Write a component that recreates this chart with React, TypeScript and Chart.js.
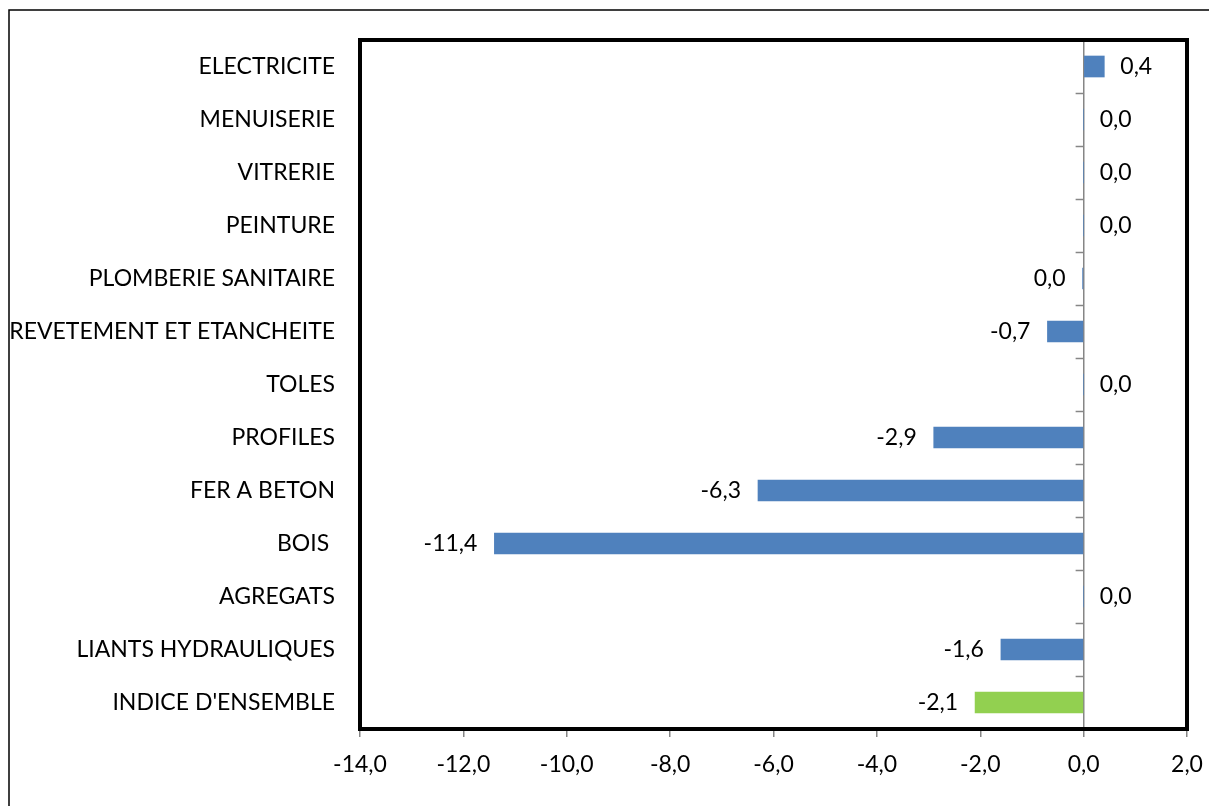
import React, { useEffect, useRef } from "react";
import { Chart, registerables } from "chart.js";

Chart.register(...registerables);

const categories = [
  "ELECTRICITE",
  "MENUISERIE",
  "VITRERIE",
  "PEINTURE",
  "PLOMBERIE SANITAIRE",
  "REVETEMENT ET ETANCHEITE",
  "TOLES",
  "PROFILES",
  "FER A BETON",
  "BOIS ",
  "AGREGATS",
  "LIANTS HYDRAULIQUES",
  "INDICE D'ENSEMBLE",
];

const values = [0.4, 0.0, 0.0, 0.0, -0.02, -0.7, 0.0, -2.9, -6.3, -11.4, 0.0, -1.6, -2.1];

const xTicks = [-14, -12, -10, -8, -6, -4, -2, 0, 2];

const BLUE = "#4F81BD";
const GREEN = "#92D050";
const FONT = "Lato, 'Open Sans', sans-serif";
const FS = 23;

const fmt = (v: number) => {
  const s = (Math.abs(v) < 0.05 ? 0 : v).toFixed(1);
  return s.replace(".", ",");
};

const framePlugin = {
  id: "frame",
  beforeDraw(chart: any) {
    const ctx = chart.ctx;
    ctx.save();
    ctx.fillStyle = "#fff";
    ctx.fillRect(0, 0, chart.width, chart.height);
    ctx.strokeStyle = "#000";
    ctx.lineWidth = 1.5;
    ctx.beginPath();
    ctx.moveTo(9, chart.height + 2);
    ctx.lineTo(9, 10);
    ctx.lineTo(chart.width + 2, 10);
    ctx.stroke();
    ctx.restore();
  },
  afterDatasetsDraw(chart: any) {
    const ctx = chart.ctx;
    const { left, right, top, bottom } = chart.chartArea;
    const x0 = chart.scales.x.getPixelForValue(0);
    const n = categories.length;
    const step = (bottom - top) / n;
    ctx.save();
    ctx.strokeStyle = "#868686";
    ctx.lineWidth = 1.5;
    ctx.beginPath();
    for (let i = 0; i <= n; i++) {
      const y = Math.round(top + i * step) + 0.5;
      ctx.moveTo(x0 - 8, y);
      ctx.lineTo(x0, y);
    }
    ctx.stroke();
    const meta = chart.getDatasetMeta(0);
    ctx.fillStyle = "#000";
    ctx.font = `${FS}px ${FONT}`;
    ctx.textBaseline = "middle";
    meta.data.forEach((bar: any, i: number) => {
      const v = values[i];
      const txt = fmt(v);
      if (v >= 0) {
        ctx.textAlign = "left";
        ctx.fillText(txt, Math.max(bar.x, x0) + 16, bar.y);
      } else {
        ctx.textAlign = "right";
        ctx.fillText(txt, bar.x - 17, bar.y);
      }
    });
    ctx.strokeStyle = "#000";
    ctx.lineWidth = 4;
    ctx.lineJoin = "miter";
    ctx.strokeRect(left, top, right - left, bottom - top);
    ctx.restore();
  },
};

export default function App() {
  const ref = useRef<HTMLCanvasElement>(null);

  useEffect(() => {
    if (!ref.current) return;
    const chart = new Chart(ref.current, {
      type: "bar",
      data: {
        labels: categories,
        datasets: [
          {
            data: values,
            backgroundColor: categories.map((_, i) => (i === categories.length - 1 ? GREEN : BLUE)),
            barThickness: 21,
            borderWidth: 0,
          },
        ],
      },
      options: {
        indexAxis: "y",
        responsive: false,
        animation: false,
        layout: { padding: { top: 40, right: 22, left: 0, bottom: 0 } },
        plugins: {
          legend: { display: false },
          tooltip: { enabled: false },
        },
        scales: {
          x: {
            min: -14,
            max: 2,
            afterBuildTicks: (scale: any) => {
              scale.ticks = xTicks.map((v) => ({ value: v }));
            },
            afterFit: (scale: any) => {
              scale.height = 806 - 729;
              scale.paddingLeft = 0;
              scale.paddingRight = 0;
            },
            grid: {
              color: (c: any) => (c.tick && c.tick.value === 0 ? "#868686" : "transparent"),
              tickColor: "#868686",
              lineWidth: 1.5,
              tickLength: 8,
              drawOnChartArea: true,
            },
            border: { display: false },
            ticks: {
              color: "#000",
              font: { size: FS, family: FONT },
              padding: 14,
              maxRotation: 0,
              autoSkip: false,
              callback: (v: any) => fmt(Number(v)),
            },
          },
          y: {
            afterFit: (scale: any) => {
              scale.width = 360;
              scale.paddingTop = 0;
              scale.paddingBottom = 0;
            },
            grid: { display: false, drawTicks: false },
            border: { display: false },
            ticks: {
              color: "#000",
              font: { size: FS, family: FONT },
              padding: 25,
              autoSkip: false,
            },
          },
        },
      },
      plugins: [framePlugin],
    });
    return () => chart.destroy();
  }, []);

  return (
    <div style={{ position: "fixed", left: 0, top: 0, width: 1209, height: 806, background: "#fff" }}>
      <canvas ref={ref} width={1209} height={806} style={{ display: "block" }} />
    </div>
  );
}
